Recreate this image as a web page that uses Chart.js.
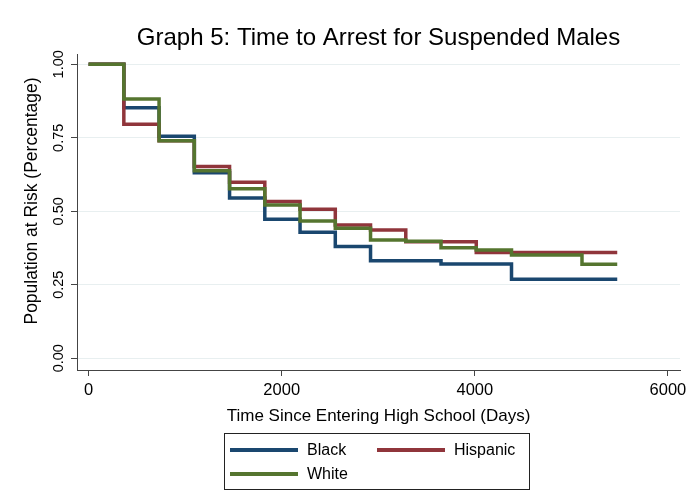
<!DOCTYPE html>
<html>
<head>
<meta charset="utf-8">
<script src="https://cdn.jsdelivr.net/npm/chart.js@4.4.1/dist/chart.umd.min.js"></script>
<style>
  body { margin: 0; background: #fff; font-family: "Liberation Sans", Arial, sans-serif; }
  #wrap { position: relative; width: 687px; height: 501px; }
  #legend {
    position: absolute; left: 224px; top: 433px; width: 306px; height: 57px;
    border: 1px solid #222; box-sizing: border-box;
  }
  .item { position: absolute; height: 24px; display: flex; align-items: center; font-size: 16px; color: #000; }
  .swatch { width: 68px; height: 4px; margin-right: 9px; }
</style>
</head>
<body>
<div id="wrap">
  <canvas id="myChart" width="687" height="501"></canvas>
  <div id="legend"></div>
</div>
<script>
// days since entering high school (one step per year)
const days = [0, 365, 730, 1095, 1460, 1825, 2190, 2555, 2920, 3285, 3650, 4015, 4380, 4745, 5110, 5475];

// share still at risk
const black    = [1.00, 0.852, 0.755, 0.631, 0.545, 0.473, 0.429, 0.380, 0.332, 0.332, 0.321, 0.321, 0.269, 0.269, 0.269, 0.269];
const hispanic = [1.00, 0.796, 0.740, 0.652, 0.599, 0.533, 0.507, 0.453, 0.436, 0.396, 0.396, 0.360, 0.360, 0.360, 0.360, 0.360];
const white    = [1.00, 0.882, 0.740, 0.638, 0.577, 0.521, 0.467, 0.442, 0.402, 0.398, 0.376, 0.368, 0.351, 0.351, 0.320, 0.320];

const groups = ['Black', 'Hispanic', 'White'];
const colors = ['#1a476f', '#90353b', '#55752f'];

const xTicks = [0, 2000, 4000, 6000];
const yTicks = [0, 0.25, 0.5, 0.75, 1];

const yTitle = 'Population at Risk (Percentage)';
const font = '"Liberation Sans", Arial, sans-serif';

function toPoints(vals) {
    return vals.map(function (v, i) { return { x: days[i], y: v }; });
}

const series = [black, hispanic, white];
const datasets = series.map(function (vals, i) {
    return {
        label: groups[i],
        data: toPoints(vals),
        borderColor: colors[i],
        backgroundColor: colors[i],
        borderWidth: 3.5,
        stepped: 'before',
        pointRadius: 0,
        fill: false,
        order: series.length - i
    };
});

/* titre de l'axe Y, un peu au-dessus du centre comme dans Stata */
const yTitlePlugin = {
    id: 'yTitle',
    afterDraw: function (c) {
        const g = c.ctx;
        g.save();
        g.translate(32, 201);
        g.rotate(-Math.PI / 2);
        g.font = '17.5px ' + font;
        g.fillStyle = '#000';
        g.textAlign = 'center';
        g.textBaseline = 'middle';
        g.fillText(yTitle, 0, 0);
        g.restore();
    }
};

var ctx = document.getElementById('myChart').getContext('2d');
var chart = new Chart(ctx, {
    type: 'line',
    data: { datasets: datasets },
    plugins: [yTitlePlugin],
    options: {
        responsive: false,
        animation: false,
        layout: { padding: { left: 0, right: 7, top: 0, bottom: 0 } },
        plugins: {
            legend: { display: false },
            tooltip: { enabled: false },
            title: {
                display: true,
                text: 'Graph 5: Time to Arrest for Suspended Males',
                fullSize: false,
                color: '#000',
                font: { family: font, size: 24, weight: 'normal' },
                padding: { top: 23.6, bottom: 1.6 }
            }
        },
        scales: {
            x: {
                type: 'linear',
                min: -120,
                max: 6125,
                afterBuildTicks: function (s) { s.ticks = xTicks.map(function (v) { return { value: v }; }); },
                afterFit: function (s) {
                    s.height = 131;
                    s.paddingLeft = 0;
                    s.paddingRight = 0;
                },
                ticks: {
                    color: '#000',
                    font: { family: font, size: 16.5 },
                    padding: 5,
                    maxRotation: 0,
                    callback: function (v) { return String(v); }
                },
                grid: { drawOnChartArea: false, tickLength: 6, tickColor: '#444' },
                border: { color: '#444', width: 1 },
                title: {
                    display: true,
                    text: 'Time Since Entering High School (Days)',
                    color: '#000',
                    font: { family: font, size: 17 },
                    padding: { top: 0, bottom: 74.8 }
                }
            },
            y: {
                min: -0.04,
                max: 1.035,
                afterBuildTicks: function (s) { s.ticks = yTicks.map(function (v) { return { value: v }; }); },
                afterFit: function (s) {
                    s.width = 77;
                    s.paddingTop = 0;
                    s.paddingBottom = 0;
                },
                ticks: {
                    color: '#000',
                    font: { family: font, size: 14.5 },
                    minRotation: 90,
                    maxRotation: 90,
                    crossAlign: 'center',
                    padding: -2,
                    callback: function (v) { return v.toFixed(2); }
                },
                grid: { color: '#e8eff0', lineWidth: 1, tickLength: 6, tickColor: '#444' },
                border: { color: '#444', width: 1 },
                title: { display: false }
            }
        }
    }
});

/* LEGENDE EN HTML */
const legend = document.getElementById('legend');
const rowCenters = [16, 40];
const colLefts = [5, 152];
chart.data.datasets.forEach(function (ds, i) {
    const item = document.createElement('div');
    item.className = 'item';
    item.style.left = colLefts[i % 2] + 'px';
    item.style.top = (rowCenters[Math.floor(i / 2)] - 12) + 'px';
    const sw = document.createElement('span');
    sw.className = 'swatch';
    sw.style.background = ds.borderColor;
    const txt = document.createElement('span');
    txt.textContent = ds.label;
    item.appendChild(sw);
    item.appendChild(txt);
    legend.appendChild(item);
});
</script>
</body>
</html>
